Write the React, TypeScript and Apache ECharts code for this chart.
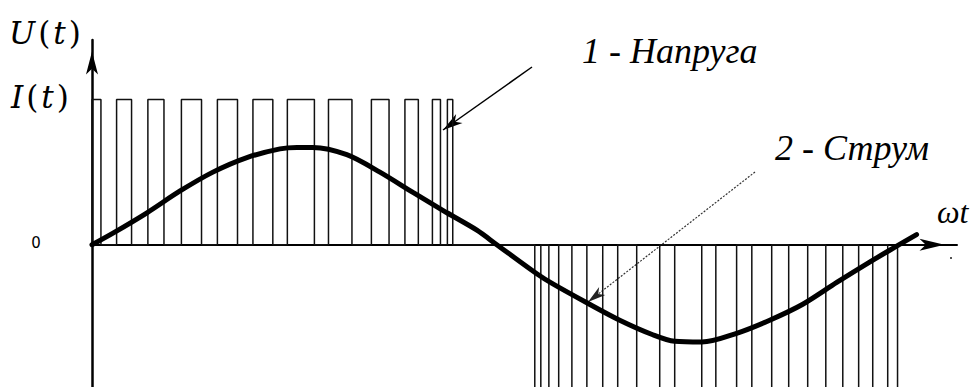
import React, { useEffect, useRef } from "react";
import * as echarts from "echarts";

// Voltage PWM pulses: pairs of [start, end] angles (degrees of ωt)
const uPulsePositive = [
  0, 4.0, 11.0, 17.7, 25.0, 32.2, 40.0, 49.0, 56.1, 65.1, 72.0, 80.9,
  87.4, 99.5, 105.8, 116.3, 125.0, 132.9, 140.0, 146.0, 152.3, 155.9, 159.0, 161.4,
];
const uPulseNegative = [
  198.1, 200.8, 204.4, 208.8, 214.7, 221.4, 228.5, 235.2, 243.7, 254.0, 260.7, 272.8,
  279.1, 288.4, 295.2, 304.1, 311.7, 320.2, 328.3, 335.9, 343.0, 349.3, 356.0, 360.4,
];
const uLevelPositive = 1;
const uLevelNegative = -1;

// Current curve
const iAngle = [
  0, 9.4, 24.6, 39.4, 54.1, 69.3, 84.1, 91.7, 98.8, 114.0, 128.8, 143.6, 158.8, 172.2,
  181.1, 199.0, 206.2, 221.4, 236.1, 250.9, 260.7, 272.8, 288.4, 303.2, 318.0, 333.2,
  347.9, 360.0, 368.9,
];
const iValue = [
  0, 0.08, 0.22, 0.37, 0.5, 0.6, 0.66, 0.67, 0.67, 0.62, 0.5, 0.36, 0.22, 0.1,
  0, -0.2, -0.27, -0.4, -0.52, -0.62, -0.665, -0.67, -0.61, -0.52, -0.41, -0.26,
  -0.12, -0.01, 0.07,
];

// Axis ranges
const xMin = 0;
const xMax = 387;
const yMin = -0.98;
const yMax = 1.41;

// Texts
const labelU = "{i|U}{p|(}{i|t}{p|)}";
const labelI = "{i|I}{p|(}{i|t}{p|)}";
const zeroLabel = "0";
const xAxisName = "ωt";
const note1 = "1 - Напруга";
const note2 = "2 - Струм";

const MATH_FAMILY = "DejaVu Serif";
const TEXT_FAMILY = "Liberation Serif";

function pulses(edges: number[], level: number): number[][] {
  const out: number[][] = [];
  for (let k = 0; k < edges.length; k += 2) {
    out.push([edges[k], 0], [edges[k], level], [edges[k + 1], level], [edges[k + 1], 0]);
  }
  return out;
}

function arrowHead(x1: number, y1: number, x2: number, y2: number, len: number, half: number) {
  const dx = x2 - x1;
  const dy = y2 - y1;
  const L = Math.hypot(dx, dy);
  const ux = dx / L;
  const uy = dy / L;
  const nx = -uy;
  const ny = ux;
  const bx = x2 - ux * len;
  const by = y2 - uy * len;
  const mx = x2 - ux * len * 0.72;
  const my = y2 - uy * len * 0.72;
  return [
    [x2, y2],
    [bx + nx * half, by + ny * half],
    [mx, my],
    [bx - nx * half, by - ny * half],
  ];
}

function mathLabel(text: string, x: number, y: number) {
  return {
    type: "text",
    x,
    y,
    style: {
      text,
      fill: "#000",
      align: "left",
      verticalAlign: "middle",
      fontFamily: MATH_FAMILY,
      fontStyle: "italic",
      fontSize: 31,
      rich: {
        i: { fontFamily: MATH_FAMILY, fontStyle: "italic", fontSize: 31, fill: "#000" },
        p: {
          fontFamily: MATH_FAMILY,
          fontStyle: "normal",
          fontSize: 31,
          fill: "#000",
          padding: [0, 3, 0, 3],
        },
      },
    },
  };
}

function noteText(text: string, x: number, y: number, size: number) {
  return {
    type: "text",
    x,
    y,
    style: {
      text,
      fontFamily: TEXT_FAMILY,
      fontStyle: "italic",
      fontSize: size,
      fill: "#000",
      align: "left",
      verticalAlign: "middle",
    },
  };
}

export default function App() {
  const ref = useRef<HTMLDivElement>(null);

  useEffect(() => {
    if (!ref.current) return;
    const chart = echarts.init(ref.current, null, { renderer: "svg" });

    const voltage = pulses(uPulsePositive, uLevelPositive).concat(
      pulses(uPulseNegative, uLevelNegative)
    );
    const current = iAngle.map((a, i) => [a, iValue[i]]);

    const a1 = [532, 67, 443, 130];
    const a2 = [755, 172, 588, 302];

    chart.setOption({
      animation: false,
      backgroundColor: "#fff",
      grid: { left: 92, top: 40, width: 865, height: 347, containLabel: false },
      xAxis: {
        type: "value",
        min: xMin,
        max: xMax,
        axisLine: {
          show: true,
          onZero: true,
          symbol: ["none", "arrow"],
          symbolSize: [9, 25],
          symbolOffset: [0, -12.5],
          lineStyle: { color: "#000", width: 2 },
        },
        axisTick: { show: false },
        axisLabel: { show: false },
        splitLine: { show: false },
      },
      yAxis: {
        type: "value",
        min: yMin,
        max: yMax,
        axisLine: {
          show: true,
          onZero: true,
          symbol: ["none", "arrow"],
          symbolSize: [9, 23],
          symbolOffset: [0, -11.5],
          lineStyle: { color: "#000", width: 2.5 },
        },
        axisTick: { show: false },
        axisLabel: { show: false },
        splitLine: { show: false },
      },
      series: [
        {
          name: "Напруга",
          type: "line",
          data: voltage,
          showSymbol: false,
          symbol: "none",
          clip: true,
          lineStyle: { color: "#111", width: 1.5 },
          z: 2,
        },
        {
          name: "Струм",
          type: "line",
          data: current,
          showSymbol: false,
          symbol: "none",
          smooth: 0.3,
          clip: false,
          lineStyle: { color: "#000", width: 5, cap: "round" },
          z: 3,
        },
      ],
      graphic: [
        mathLabel(labelU, 9, 33),
        mathLabel(labelI, 11, 97),
        {
          type: "text",
          x: 36,
          y: 243,
          style: {
            text: zeroLabel,
            fontFamily: "DejaVu Sans",
            fontSize: 15,
            fill: "#000",
            align: "center",
            verticalAlign: "middle",
          },
        },
        noteText(xAxisName, 937, 212, 32),
        noteText(note1, 582, 51, 36),
        noteText(note2, 775, 148, 36),
        {
          type: "line",
          shape: { x1: a1[0], y1: a1[1], x2: a1[2], y2: a1[3] },
          style: { stroke: "#000", lineWidth: 1.5 },
        },
        {
          type: "polygon",
          shape: { points: arrowHead(a1[0], a1[1], a1[2], a1[3], 20, 5.5) },
          style: { fill: "#000" },
        },
        {
          type: "line",
          shape: { x1: a2[0], y1: a2[1], x2: a2[2], y2: a2[3] },
          style: { stroke: "#333", lineWidth: 1.2, lineDash: [2, 1.5] },
        },
        {
          type: "polygon",
          shape: { points: arrowHead(a2[0], a2[1], a2[2], a2[3], 18, 5) },
          style: { fill: "#222" },
        },
        {
          type: "rect",
          shape: { x: 950, y: 257, width: 2, height: 2 },
          style: { fill: "#555" },
        },
      ],
    });

    return () => chart.dispose();
  }, []);

  return (
    <div
      ref={ref}
      style={{ position: "absolute", left: 0, top: 0, width: 976, height: 387, background: "#fff" }}
    />
  );
}
